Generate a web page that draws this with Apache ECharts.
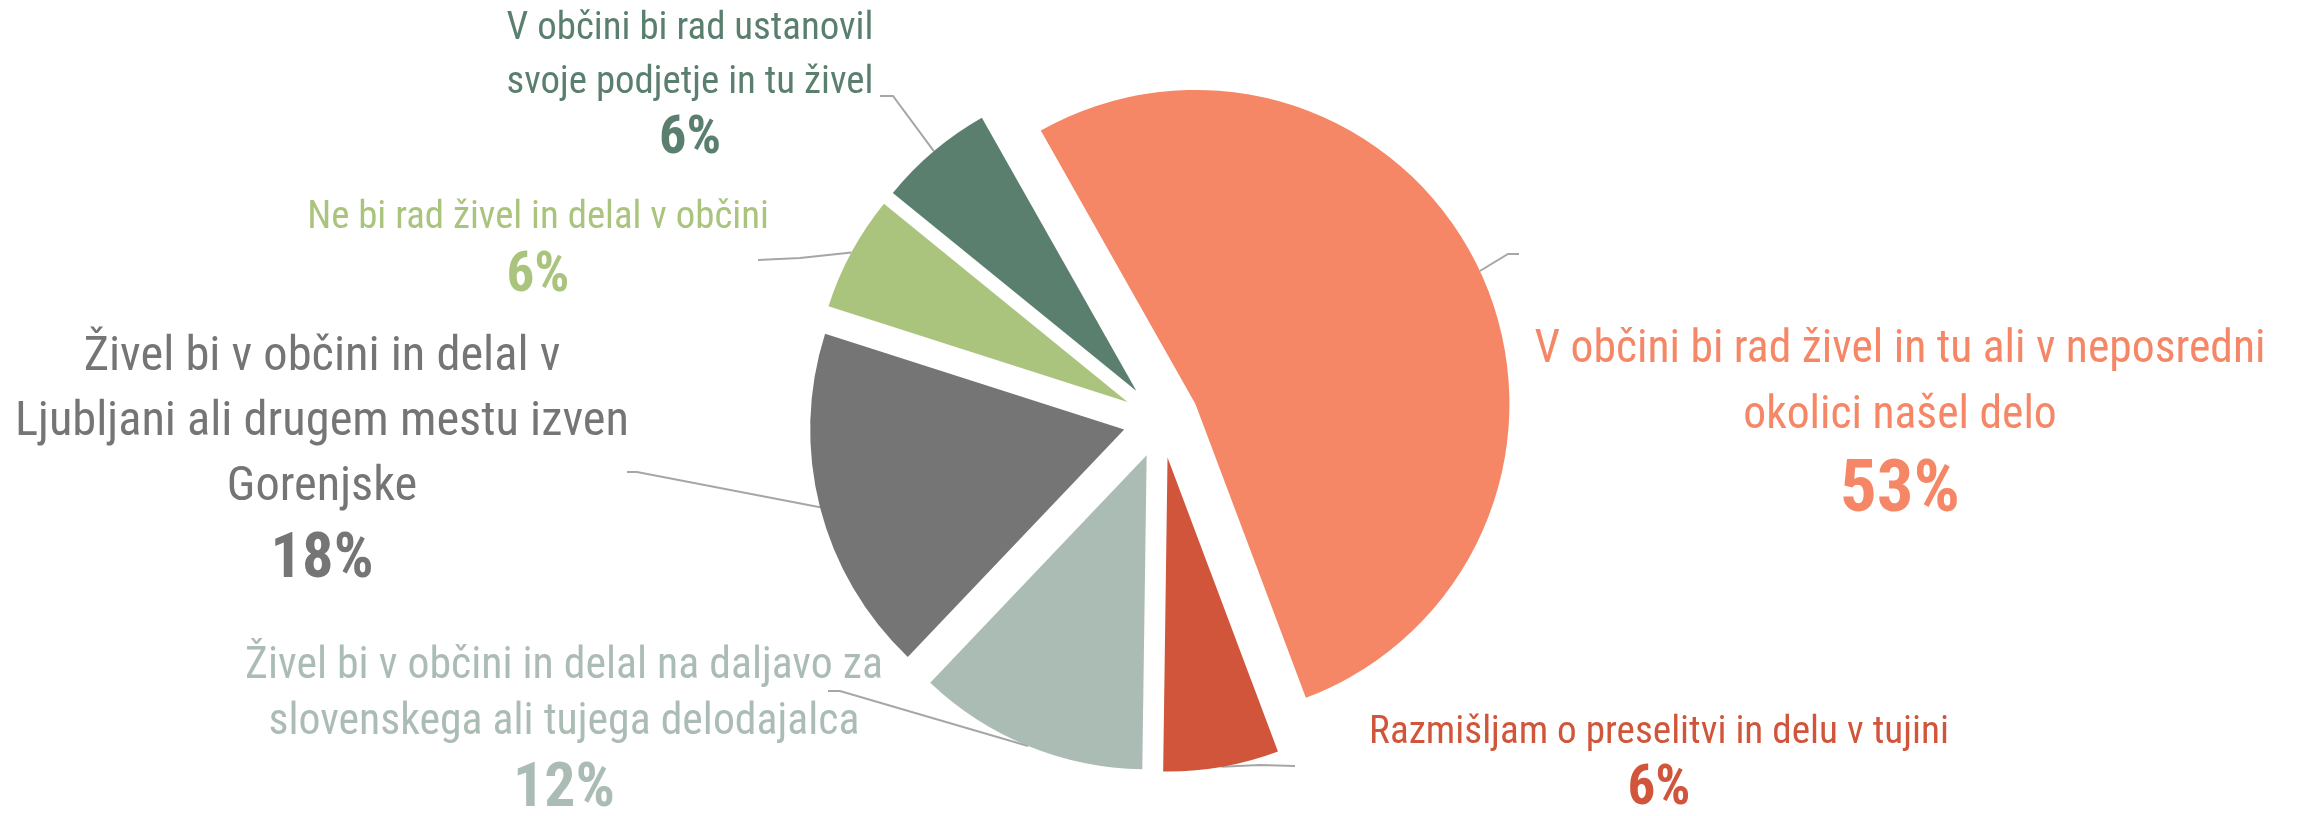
<!DOCTYPE html>
<html>
<head>
<meta charset="utf-8">
<script src="https://cdn.jsdelivr.net/npm/echarts@6/dist/echarts.min.js"></script>
<style>
  html, body { margin: 0; background: #fff; }
  #chart { width: 2321px; height: 816px; }
</style>
</head>
<body>
<div id="chart"></div>
<script>
// odgovori, v smeri urinega kazalca (prvi začne zgoraj levo od vrha)
const answers = [
  'V občini bi rad živel in tu ali v neposredni\nokolici našel delo',
  'Razmišljam o preselitvi in delu v tujini',
  'Živel bi v občini in delal na daljavo za\nslovenskega ali tujega delodajalca',
  'Živel bi v občini in delal v\nLjubljani ali drugem mestu izven\nGorenjske',
  'Ne bi rad živel in delal v občini',
  'V občini bi rad ustanovil\nsvoje podjetje in tu živel'
];
const shares = [53, 6, 12, 18, 6, 6];
const colors = ['#F58767', '#D1553A', '#ABBCB5', '#757575', '#AAC47E', '#5B7F6E'];

// label layout: center x, first baseline, line gap, percent baseline
const labelSpots = [
  [1900, 367, 66, 518],
  [1659, 747, 0, 810],
  [564, 682, 56, 812],
  [322, 375, 65, 583],
  [538, 232, 0, 297],
  [690, 43, 54, 158]
];
// width of the widest text line and of the percent, as drawn in the source
const textWidths = [731, 580, 638, 614, 462, 367];
const pctWidths = [120, 63, 102, 103, 63, 62];
// leader line elbow and end (start is taken from the pie layout)
const leaderBends = [
  [[1508, 254], [1519, 254]],
  [[1260, 765], [1295, 766]],
  [[840, 691], [828, 691]],
  [[637, 472], [627, 472]],
  [[800, 258], [758, 260]],
  [[893, 96], [880, 96]]
];
const pieOffset = 38;

// pick a narrow font that is actually installed
let ctx = document.createElement('canvas').getContext('2d');
function hasFont(name) {
  const probe = 'abcdefghilmnoprstuvz ŽČŠ 0123456789';
  for (const fb of ['monospace', 'serif']) {
    ctx.font = '100px ' + fb;
    const a = ctx.measureText(probe).width;
    ctx.font = '100px "' + name + '", ' + fb;
    if (Math.abs(ctx.measureText(probe).width - a) > 0.5) return true;
  }
  return false;
}
const candidates = ['Liberation Sans Narrow', 'Arial Narrow', 'Roboto Condensed', 'Noto Sans Condensed',
  'Open Sans Condensed', 'DejaVu Sans Condensed', 'Roboto'];
let family = 'sans-serif';
for (const c of candidates) {
  if (hasFont(c)) { family = c; break; }
}
function measure(text, weight) {
  ctx.font = weight + ' 100px "' + family + '", sans-serif';
  return ctx.measureText(text).width / 100;
}

let chart = echarts.init(document.getElementById('chart'));
chart.setOption({
  backgroundColor: '#fff',
  animation: false,
  series: [{
    type: 'pie',
    center: [1161, 420],
    radius: 314,
    startAngle: 119.5,
    selectedMode: 'multiple',
    selectedOffset: pieOffset,
    emphasis: { disabled: true },
    label: { show: false },
    labelLine: { show: false },
    data: shares.map(function (v, i) {
      return { value: v, name: answers[i], selected: true, itemStyle: { color: colors[i] } };
    })
  }]
});

// labels + leader lines, anchored on the slice layout that echarts computed
let pieData = chart.getModel().getSeriesByIndex(0).getData();
let elements = [];
shares.forEach(function (v, i) {
  const lay = pieData.getItemLayout(i);
  const mid = (lay.startAngle + lay.endAngle) / 2;
  const rr = lay.r + pieOffset;
  const anchor = [lay.cx + rr * Math.cos(mid), lay.cy + rr * Math.sin(mid)];
  elements.push({
    type: 'polyline',
    silent: true,
    shape: { points: [anchor].concat(leaderBends[i]) },
    style: { stroke: '#A6A6A6', lineWidth: 2, fill: null }
  });

  const spot = labelSpots[i];
  const lines = answers[i].split('\n');
  let widest = 0;
  lines.forEach(function (ln) { widest = Math.max(widest, measure(ln, 'normal')); });
  const fs = textWidths[i] / widest;
  lines.forEach(function (ln, k) {
    elements.push({
      type: 'text',
      silent: true,
      style: {
        text: ln,
        x: spot[0],
        y: spot[1] + k * spot[2] - 0.35 * fs,
        align: 'center',
        verticalAlign: 'middle',
        fill: colors[i],
        fontFamily: family,
        fontSize: fs
      }
    });
  });
  const pct = v + '%';
  const ps = pctWidths[i] / measure(pct, 'bold');
  elements.push({
    type: 'text',
    silent: true,
    style: {
      text: pct,
      x: spot[0],
      y: spot[3] - 0.35 * ps,
      align: 'center',
      verticalAlign: 'middle',
      fill: colors[i],
      fontFamily: family,
      fontWeight: 'bold',
      fontSize: ps
    }
  });
});
chart.setOption({ graphic: { elements: elements } });
</script>
</body>
</html>
